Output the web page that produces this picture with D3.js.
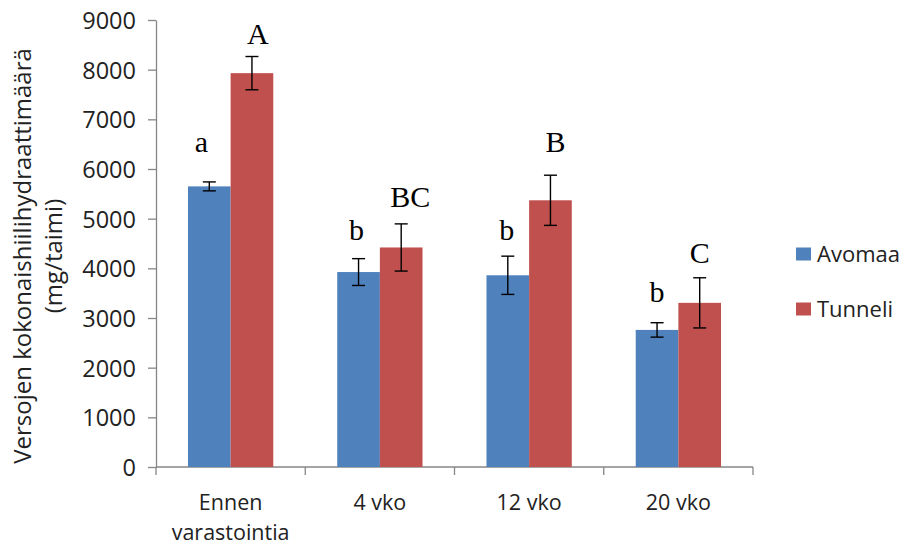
<!DOCTYPE html>
<html>
<head>
<meta charset="utf-8">
<script src="https://cdn.jsdelivr.net/npm/d3@7"></script>
<style>
  html, body { margin: 0; padding: 0; background: #fff; }
  svg { display: block; }
</style>
</head>
<body>
<svg id="chart" width="906" height="546"></svg>
<script>
// Storage time points (category label lines)
const categories = ["Ennen varastointia", "4 vko", "12 vko", "20 vko"];
const categoryLines = [["Ennen", "varastointia"], ["4 vko"], ["12 vko"], ["20 vko"]];

// Series names
const seriesNames = ["Avomaa", "Tunneli"];

// Total carbohydrate content (mg/seedling) and standard errors
const avomaa = [5650, 3925, 3860, 2760];
const avomaaErr = [90, 270, 385, 145];
const tunneli = [7930, 4420, 5370, 3305];
const tunneliErr = [335, 475, 505, 505];

// Significance letters
const avomaaLetters = ["a", "b", "b", "b"];
const tunneliLetters = ["A", "BC", "B", "C"];

// Y axis ticks
const yTicks = [0, 1000, 2000, 3000, 4000, 5000, 6000, 7000, 8000, 9000];

// ---- layout ----
const colors = ["#4F81BD", "#C0504D"];
const axisColor = "#868686";
const plot = { left: 156, right: 753, top: 20, bottom: 467 };
// label nudges [dx, gap above error bar] for each letter
const letterLayout = [
  [[-8, 30], [6, 13]],
  [[-2, 19], [9, 17]],
  [[-1, 16], [5, 23]],
  [[0, 21], [0, 15]]
];

const svg = d3.select("#chart");

const y = d3.scaleLinear().domain([0, 9000]).range([plot.bottom, plot.top]);
const x0 = d3.scaleBand().domain(categories).range([plot.left, plot.right]).padding(0);
const bw = x0.bandwidth();
// 150% gap width: each bar is bw / 3.5
const x1 = d3.scaleBand().domain(seriesNames)
  .range([bw * 0.75 / 3.5, bw * 2.75 / 3.5]).padding(0);

const data = categories.map((c, i) => ({
  cat: c,
  bars: [
    { s: seriesNames[0], v: avomaa[i], e: avomaaErr[i], l: avomaaLetters[i], k: 0 },
    { s: seriesNames[1], v: tunneli[i], e: tunneliErr[i], l: tunneliLetters[i], k: 1 }
  ]
}));

// Y axis
const yAxis = d3.axisLeft(y).tickValues(yTicks).tickFormat(d3.format("d"))
  .tickSize(8).tickSizeOuter(0).tickPadding(12);
const gy = svg.append("g").attr("transform", `translate(${plot.left},0)`).call(yAxis);
gy.select(".domain").attr("stroke", axisColor).attr("stroke-width", 1.3);
gy.selectAll(".tick line").attr("stroke", axisColor).attr("stroke-width", 1.3);
gy.selectAll(".tick text")
  .attr("fill", "#222")
  .attr("font-family", "'Open Sans', sans-serif")
  .attr("font-size", 23.5)
  .attr("dy", "0.36em");

// X axis (ticks at category boundaries)
const gx = svg.append("g").attr("transform", `translate(0,${plot.bottom})`);
gx.append("line")
  .attr("x1", plot.left).attr("x2", plot.right)
  .attr("y1", 0).attr("y2", 0)
  .attr("stroke", axisColor).attr("stroke-width", 1.3);
const boundaries = categories.map(c => x0(c)).concat([plot.right]);
gx.selectAll("line.tick").data(boundaries).enter().append("line")
  .attr("class", "tick")
  .attr("x1", d => d).attr("x2", d => d)
  .attr("y1", 0).attr("y2", 8)
  .attr("stroke", axisColor).attr("stroke-width", 1.3);
categories.forEach((c, i) => {
  categoryLines[i].forEach((line, j) => {
    gx.append("text")
      .attr("class", "cat")
      .attr("x", x0(c) + bw / 2)
      .attr("y", 43 + j * 29.5)
      .attr("text-anchor", "middle")
      .attr("fill", "#222")
      .attr("font-family", "'Open Sans', sans-serif")
      .attr("font-size", 21.5)
      .text(line);
  });
});

// Bars
const groups = svg.selectAll("g.group").data(data).enter().append("g")
  .attr("class", "group")
  .attr("transform", d => `translate(${x0(d.cat)},0)`);

groups.selectAll("rect").data(d => d.bars).enter().append("rect")
  .attr("x", d => x1(d.s))
  .attr("width", x1.bandwidth())
  .attr("y", d => y(d.v))
  .attr("height", d => y(0) - y(d.v))
  .attr("fill", d => colors[d.k]);

// Error bars
const capHalf = 6.5;
const err = groups.selectAll("g.err").data(d => d.bars).enter().append("g")
  .attr("class", "err")
  .attr("stroke", "#000").attr("stroke-width", 1.4);
err.append("line")
  .attr("x1", d => x1(d.s) + x1.bandwidth() / 2).attr("x2", d => x1(d.s) + x1.bandwidth() / 2)
  .attr("y1", d => y(d.v + d.e)).attr("y2", d => y(d.v - d.e));
err.append("line")
  .attr("x1", d => x1(d.s) + x1.bandwidth() / 2 - capHalf).attr("x2", d => x1(d.s) + x1.bandwidth() / 2 + capHalf)
  .attr("y1", d => y(d.v + d.e)).attr("y2", d => y(d.v + d.e));
err.append("line")
  .attr("x1", d => x1(d.s) + x1.bandwidth() / 2 - capHalf).attr("x2", d => x1(d.s) + x1.bandwidth() / 2 + capHalf)
  .attr("y1", d => y(d.v - d.e)).attr("y2", d => y(d.v - d.e));

// Significance letters
groups.each(function (d, i) {
  d3.select(this).selectAll("text.letter").data(d.bars).enter().append("text")
    .attr("class", "letter")
    .attr("x", b => x1(b.s) + x1.bandwidth() / 2 + letterLayout[i][b.k][0])
    .attr("y", b => y(b.v + b.e) - letterLayout[i][b.k][1])
    .attr("text-anchor", "middle")
    .attr("fill", "#000")
    .attr("font-family", "'Liberation Serif', 'Times New Roman', serif")
    .attr("font-size", 30)
    .text(b => b.l);
});

// Y axis title
const titleFont = { family: "'Open Sans', sans-serif", size: 24 };
svg.append("text")
  .attr("transform", "translate(31,256) rotate(-90)")
  .attr("text-anchor", "middle")
  .attr("fill", "#222")
  .attr("font-family", titleFont.family)
  .attr("font-size", titleFont.size)
  .text("Versojen kokonaishiilihydraattimäärä");
svg.append("text")
  .attr("transform", "translate(62,256) rotate(-90)")
  .attr("text-anchor", "middle")
  .attr("fill", "#222")
  .attr("font-family", titleFont.family)
  .attr("font-size", titleFont.size)
  .text("(mg/taimi)");

// Legend
const legend = svg.append("g").attr("transform", "translate(796,0)");
const legendY = [254.5, 309.5];
seriesNames.forEach((name, i) => {
  legend.append("rect")
    .attr("x", 0).attr("y", legendY[i] - 7)
    .attr("width", 15).attr("height", 13)
    .attr("fill", colors[i]);
  legend.append("text")
    .attr("x", 21).attr("y", legendY[i])
    .attr("dy", "0.36em")
    .attr("fill", "#222")
    .attr("font-family", "'Open Sans', sans-serif")
    .attr("font-size", 22)
    .text(name);
});
</script>
</body>
</html>
